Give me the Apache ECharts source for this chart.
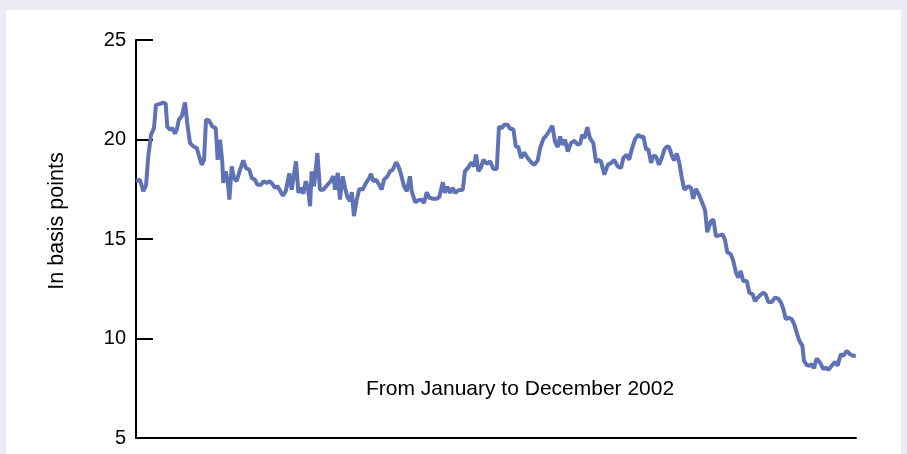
<!DOCTYPE html>
<html>
<head>
<meta charset="utf-8">
<script src="https://cdn.jsdelivr.net/npm/echarts@6/dist/echarts.min.js"></script>
<style>
  html, body { margin: 0; padding: 0; background: #ebebf4; }
  #panel { position: absolute; left: 6px; top: 10px; width: 895px; height: 444px; background: #ffffff; }
  #chart { position: absolute; left: 0; top: 0; width: 907px; height: 454px; }
</style>
</head>
<body>
<div id="panel"></div>
<div id="chart"></div>
<script>
// Day of year 2002 (0 = 1 January)
const days = [0,2.0,3.7,5.1,6.2,7.6,9.1,10.1,12.1,13.8,15.0,15.8,17.2,18.4,19.7,20.6,21.7,23.1,24.8,25.9,27.3,29.0,30.7,33.2,34.4,35.4,36.9,38.6,40.3,41.3,42.5,43.6,44.1,45.4,46.4,47.2,48.4,49.5,50.9,52.2,54.2,55.6,57.3,58.5,60.2,61.3,63.2,64.4,66.1,67.7,68.9,70.3,71.6,73.0,74.3,75.7,77.5,78.7,80.9,82.1,83.4,84.6,85.8,86.8,88.0,88.8,90.0,91.7,93.0,94.7,96.4,98.4,99.8,100.6,102.0,103.1,104.5,105.7,106.8,108.2,109.1,110.2,111.6,112.9,114.6,116.3,118.0,118.8,120.0,121.3,122.9,124.2,125.4,127.1,128.4,129.8,131.5,132.6,133.8,135.5,136.9,138.5,139.4,141.1,142.7,144.4,145.6,147.0,148.3,150.3,152.0,153.4,155.1,156.2,157.4,158.8,160.1,161.4,163.0,165.2,166.3,168.0,169.7,170.9,171.9,173.1,174.3,175.6,177.3,179.0,180.7,182.4,183.5,184.9,186.2,187.9,189.1,190.8,192.0,193.3,194.7,196.3,198.0,200.1,201.4,203.1,204.3,205.9,207.7,209.3,210.5,211.8,213.2,214.4,215.5,216.9,218.3,219.9,221.6,223.3,224.5,225.6,226.7,228.2,229.5,231.2,232.6,233.7,235.1,236.8,238.5,240.2,241.8,243.5,245.2,246.4,248.1,249.3,250.6,252.3,254.0,255.3,256.5,257.9,259.0,260.4,261.5,262.9,264.4,265.8,267.1,268.3,269.5,270.9,272.0,273.4,274.7,275.9,277.2,279.2,280.6,281.7,283.1,284.8,286.3,287.7,288.8,290.6,291.9,293.2,294.9,296.6,297.8,298.9,300.7,302.0,303.3,304.5,305.7,307.0,308.8,310.1,311.8,312.9,314.3,315.5,317.1,318.3,319.7,321.4,323.0,324.7,326.1,327.3,328.5,329.8,331.5,332.8,334.0,335.4,336.9,337.7,339.1,340.4,341.6,342.8,344.1,345.8,347.5,348.8,350.0,351.7,353.4,354.7,356.3,357.6,359.3,361.0,362.4,363.9];
// Spread in basis points
const spread = [17.9,17.98,17.4,17.7,19.15,20.24,20.57,21.74,21.79,21.86,21.8,20.65,20.49,20.57,20.3,20.49,21.0,21.16,21.86,20.82,19.82,19.65,19.57,18.73,18.98,21.0,20.96,20.65,20.57,18.98,19.99,18.9,17.82,18.4,17.9,16.98,18.65,18.07,17.9,18.35,18.95,18.57,18.48,18.07,17.98,17.73,17.73,17.9,17.82,17.9,17.77,17.57,17.65,17.4,17.18,17.4,18.3,17.48,18.9,17.32,17.57,17.28,17.9,17.65,16.65,18.4,17.65,19.32,17.48,17.48,17.68,17.9,18.15,17.48,18.32,16.98,18.15,17.57,17.12,16.9,17.35,16.15,16.98,17.52,17.48,17.82,18.07,18.28,17.9,17.98,17.73,17.48,17.98,18.15,18.4,18.48,18.85,18.68,18.32,17.65,17.4,18.15,17.4,16.85,16.95,16.98,16.81,17.35,17.07,17.02,17.02,17.12,17.85,17.32,17.62,17.32,17.57,17.32,17.45,17.48,18.4,18.6,18.85,18.65,19.24,18.4,18.57,18.98,18.78,18.9,18.52,18.52,20.65,20.57,20.74,20.74,20.54,20.52,19.65,19.62,19.07,19.35,19.07,18.82,18.73,18.95,19.57,20.02,20.24,20.49,20.69,19.9,19.62,20.15,19.74,19.99,19.4,19.82,19.94,19.74,19.79,20.24,20.07,20.62,20.07,19.82,18.85,18.98,18.9,18.23,18.73,18.82,18.98,18.65,18.57,19.07,19.24,18.98,19.49,20.02,20.24,20.12,20.15,19.49,19.52,18.82,19.18,19.15,18.73,19.07,19.49,19.65,19.62,19.2,18.95,19.29,18.82,18.1,17.48,17.65,17.57,17.02,17.52,17.18,16.81,16.44,15.34,15.89,15.98,15.14,15.18,15.23,14.94,14.34,14.23,13.89,13.31,13.06,13.39,12.89,12.89,12.3,12.22,11.88,12.05,12.17,12.3,12.22,11.83,11.83,12.05,12.0,11.8,11.47,10.97,11.05,10.97,10.71,10.3,9.88,9.63,8.88,8.66,8.63,8.71,8.5,9.0,8.79,8.46,8.54,8.42,8.63,8.83,8.63,9.21,9.13,9.38,9.21,9.13,9.13];
const yTicks = [5, 10, 15, 20, 25];
const yAxisTitle = 'In basis points';
const note = 'From January to December 2002';

const chart = echarts.init(document.getElementById('chart'), null, { renderer: 'canvas' });
const font = 'Liberation Sans, Arial, sans-serif';
chart.setOption({
  backgroundColor: 'transparent',
  animation: false,
  grid: { left: 136, right: 51, top: 40, bottom: 16, containLabel: false },
  xAxis: {
    type: 'value', min: 0, max: 364,
    axisLine: { show: true, lineStyle: { color: '#000', width: 2 } },
    axisTick: { show: false }, axisLabel: { show: false }, splitLine: { show: false }
  },
  yAxis: {
    type: 'value', min: yTicks[0], max: yTicks[yTicks.length - 1], interval: 5,
    axisLine: { show: true, lineStyle: { color: '#000', width: 2 } },
    axisTick: { show: true, inside: true, length: 17, lineStyle: { color: '#000', width: 2 } },
    axisLabel: { fontFamily: font, fontSize: 20, color: '#000', margin: 10 },
    splitLine: { show: false }
  },
  graphic: [{
    type: 'text', left: 366, top: 379,
    style: { text: note, font: '21px ' + font, fill: '#000' }
  }, {
    type: 'text', x: 57, y: 221, rotation: Math.PI / 2,
    style: { text: yAxisTitle, font: '21.5px ' + font, fill: '#000', align: 'center', verticalAlign: 'middle' }
  }],
  series: [{
    type: 'line',
    data: days.map((d, i) => [d, spread[i]]),
    showSymbol: false, smooth: false,
    lineStyle: { color: '#5f72b5', width: 4 }
  }]
});
</script>
</body>
</html>
